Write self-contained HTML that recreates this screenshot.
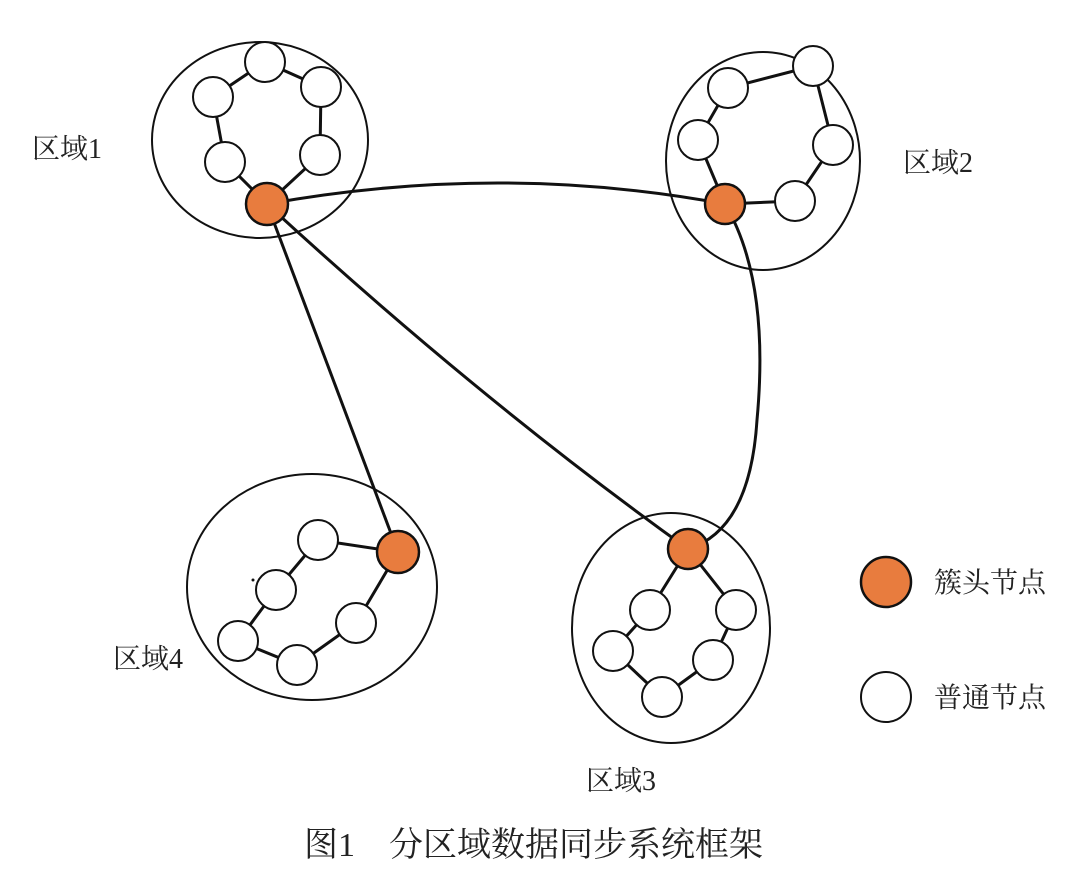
<!DOCTYPE html>
<html><head><meta charset="utf-8"><style>
html,body{margin:0;padding:0;background:#fff;width:1080px;height:894px;overflow:hidden}
text{font-family:"Liberation Serif","Noto Serif CJK SC",serif;fill:#222}
</style></head><body>
<svg width="1080" height="894" viewBox="0 0 1080 894" xmlns="http://www.w3.org/2000/svg">
<g fill="none" stroke="#111" stroke-width="2">
<ellipse cx="260" cy="140" rx="108" ry="98"/>
<ellipse cx="763" cy="161" rx="97" ry="109"/>
<ellipse cx="312" cy="587" rx="125" ry="113"/>
<ellipse cx="671" cy="628" rx="99" ry="115"/>
</g>
<g fill="none" stroke="#111" stroke-width="3">
<path d="M267 204 Q 500 162 725 204"/>
<path d="M267 204 L398 552"/>
<path d="M267 204 Q 480 400 688 549"/>
<path d="M725 204 Q 770 280 757 420 Q 750 530 688 549"/>
<polyline points="225,162 213,97 265,62 321,87 320,155 267,204 225,162"/>
<polyline points="725,204 698,140 728,88 813,66 833,145 795,201 725,204"/>
<polyline points="398,552 318,540 276,590 238,641 297,665 356,623 398,552"/>
<polyline points="688,549 650,610 613,651 662,697 713,660 736,610 688,549"/>
</g>
<g fill="#fff" stroke="#111" stroke-width="2">
<circle cx="265" cy="62" r="20"/><circle cx="213" cy="97" r="20"/><circle cx="321" cy="87" r="20"/><circle cx="225" cy="162" r="20"/><circle cx="320" cy="155" r="20"/>
<circle cx="728" cy="88" r="20"/><circle cx="813" cy="66" r="20"/><circle cx="698" cy="140" r="20"/><circle cx="833" cy="145" r="20"/><circle cx="795" cy="201" r="20"/>
<circle cx="318" cy="540" r="20"/><circle cx="276" cy="590" r="20"/><circle cx="238" cy="641" r="20"/><circle cx="297" cy="665" r="20"/><circle cx="356" cy="623" r="20"/>
<circle cx="650" cy="610" r="20"/><circle cx="736" cy="610" r="20"/><circle cx="613" cy="651" r="20"/><circle cx="713" cy="660" r="20"/><circle cx="662" cy="697" r="20"/>
<circle cx="886" cy="697" r="25"/>
</g>
<g fill="#E87C3E" stroke="#111" stroke-width="2.5">
<circle cx="267" cy="204" r="21"/><circle cx="725" cy="204" r="20"/><circle cx="398" cy="552" r="21"/><circle cx="688" cy="549" r="20"/>
<circle cx="886" cy="582" r="25"/>
</g>
<circle cx="253" cy="580" r="1.5" fill="#111"/>
<g font-size="28">
<text x="32" y="158">区域1</text>
<text x="903" y="172">区域2</text>
<text x="113" y="668">区域4</text>
<text x="586" y="790">区域3</text>
<text x="934" y="592">簇头节点</text>
<text x="934" y="707">普通节点</text>
</g>
<text x="304" y="856" font-size="34">图1　分区域数据同步系统框架</text>
</svg>
</body></html>
